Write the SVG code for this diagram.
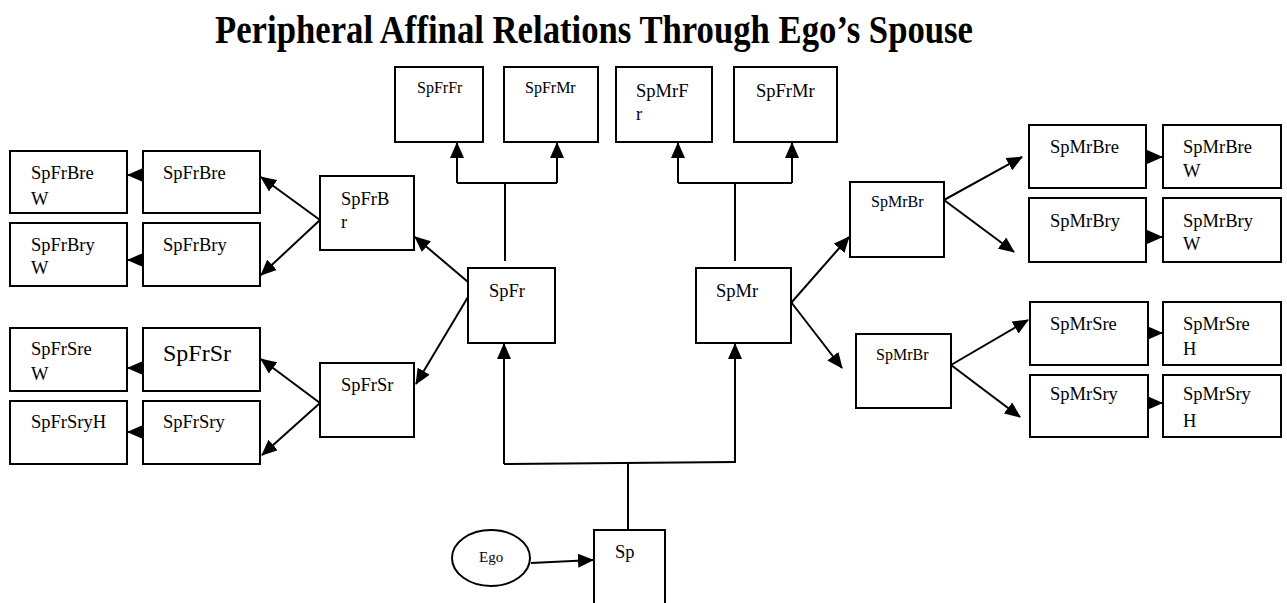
<svg xmlns="http://www.w3.org/2000/svg" width="1287" height="603" viewBox="0 0 1287 603">
<style>
rect,ellipse{fill:#fff;stroke:#000;stroke-width:2}
text{font-family:"Liberation Serif","Times New Roman",serif;font-size:18.5px;fill:#000}
.s{font-size:16px}
.b{font-size:24px}
.e{font-size:15px}
.title{font-size:40px;font-weight:bold}
#connectors line,#connectors path{stroke:#000;stroke-width:2;fill:none}
.a{marker-end:url(#ah)}
</style>
<defs>
<marker id="ah" markerWidth="16" markerHeight="14" refX="15" refY="7" orient="auto" markerUnits="userSpaceOnUse"><path d="M0,0 L16,7 L0,14 z" fill="#000"/></marker>
</defs>
<rect x="0" y="0" width="1287" height="603" style="fill:#fff;stroke:none"/>
<text class="title" x="215" y="43" textLength="758" lengthAdjust="spacingAndGlyphs">Peripheral Affinal Relations Through Ego’s Spouse</text>

<g id="connectors">
<line x1="457" y1="183" x2="557" y2="183"/>
<line class="a" x1="457" y1="183" x2="457" y2="143"/>
<line class="a" x1="557" y1="183" x2="557" y2="143"/>
<line x1="505" y1="183" x2="505" y2="261"/>
<line x1="678" y1="183" x2="792" y2="183"/>
<line class="a" x1="678" y1="183" x2="678" y2="143"/>
<line class="a" x1="792" y1="183" x2="792" y2="143"/>
<line x1="735" y1="183" x2="735" y2="261"/>
<line x1="504" y1="464" x2="736" y2="462"/>
<line class="a" x1="504" y1="464" x2="504" y2="344"/>
<line class="a" x1="735" y1="462" x2="735" y2="344"/>
<line x1="628" y1="463" x2="628" y2="530"/>
<line class="a" x1="531" y1="563" x2="593" y2="560"/>
<line class="a" x1="468" y1="282" x2="415" y2="237"/>
<line class="a" x1="468" y1="297" x2="416" y2="384"/>
<line class="a" x1="320" y1="220" x2="261" y2="177"/>
<line class="a" x1="320" y1="220" x2="261" y2="275"/>
<line class="a" x1="320" y1="403" x2="261" y2="359"/>
<line class="a" x1="320" y1="403" x2="262" y2="455"/>
<line class="a" x1="143" y1="175" x2="128" y2="175"/>
<line class="a" x1="143" y1="260" x2="128" y2="260"/>
<line class="a" x1="143" y1="368" x2="128" y2="368"/>
<line class="a" x1="143" y1="432" x2="128" y2="432"/>
<line class="a" x1="791" y1="303" x2="849" y2="237"/>
<line class="a" x1="791" y1="302" x2="842" y2="368"/>
<line class="a" x1="944" y1="200" x2="1022" y2="157"/>
<line class="a" x1="944" y1="200" x2="1014" y2="252"/>
<line class="a" x1="951" y1="365" x2="1028" y2="320"/>
<line class="a" x1="951" y1="365" x2="1020" y2="417"/>
<line class="a" x1="1146" y1="157" x2="1162" y2="157"/>
<line class="a" x1="1146" y1="237" x2="1162" y2="237"/>
<line class="a" x1="1148" y1="333" x2="1162" y2="333"/>
<line class="a" x1="1148" y1="403" x2="1162" y2="403"/>
</g>

<g id="SpFrBreW"><rect x="10" y="151" width="117" height="62"/><text x="31" y="179">SpFrBre</text><text x="31" y="205">W</text></g>
<g id="SpFrBre"><rect x="143" y="151" width="117" height="62"/><text x="163" y="179">SpFrBre</text></g>
<g id="SpFrBryW"><rect x="10" y="223" width="117" height="63"/><text x="31" y="251">SpFrBry</text><text x="31" y="274">W</text></g>
<g id="SpFrBry"><rect x="143" y="223" width="117" height="63"/><text x="163" y="251">SpFrBry</text></g>
<g id="SpFrBr"><rect x="320" y="176" width="94" height="74"/><text x="341" y="205">SpFrB</text><text x="341" y="228">r</text></g>
<g id="SpFrSreW"><rect x="10" y="328" width="117" height="63"/><text x="31" y="355">SpFrSre</text><text x="31" y="380">W</text></g>
<g id="SpFrSr-big"><rect x="143" y="328" width="117" height="63"/><text class="b" x="163" y="361">SpFrSr</text></g>
<g id="SpFrSryH"><rect x="10" y="401" width="117" height="63"/><text x="31" y="428">SpFrSryH</text></g>
<g id="SpFrSry"><rect x="143" y="401" width="117" height="63"/><text x="163" y="428">SpFrSry</text></g>
<g id="SpFrSr"><rect x="320" y="363" width="94" height="74"/><text x="341" y="391">SpFrSr</text></g>
<g id="SpFrFr"><rect x="395" y="67" width="88" height="75"/><text class="s" x="417" y="93">SpFrFr</text></g>
<g id="SpFrMr"><rect x="504" y="67" width="94" height="75"/><text class="s" x="525" y="93">SpFrMr</text></g>
<g id="SpMrFr"><rect x="616" y="67" width="96" height="75"/><text x="636" y="97">SpMrF</text><text x="636" y="120">r</text></g>
<g id="SpFrMr2"><rect x="734" y="67" width="103" height="75"/><text x="756" y="97">SpFrMr</text></g>
<g id="SpFr"><rect x="468" y="268" width="87" height="75"/><text x="489" y="297">SpFr</text></g>
<g id="SpMr"><rect x="696" y="268" width="95" height="75"/><text x="716" y="297">SpMr</text></g>
<g id="Sp"><rect x="594" y="530" width="71" height="85"/><text x="615" y="558">Sp</text></g>
<g id="Ego"><ellipse cx="491" cy="558" rx="39" ry="28"/><text class="e" x="479" y="562">Ego</text></g>
<g id="SpMrBr1"><rect x="850" y="182" width="94" height="75"/><text class="s" x="871" y="207">SpMrBr</text></g>
<g id="SpMrBr2"><rect x="856" y="334" width="95" height="74"/><text class="s" x="876" y="360">SpMrBr</text></g>
<g id="SpMrBre"><rect x="1029" y="125" width="117" height="63"/><text x="1050" y="153">SpMrBre</text></g>
<g id="SpMrBreW"><rect x="1163" y="125" width="118" height="63"/><text x="1183" y="153">SpMrBre</text><text x="1183" y="177">W</text></g>
<g id="SpMrBry"><rect x="1029" y="198" width="117" height="64"/><text x="1050" y="227">SpMrBry</text></g>
<g id="SpMrBryW"><rect x="1163" y="198" width="118" height="64"/><text x="1183" y="227">SpMrBry</text><text x="1183" y="250">W</text></g>
<g id="SpMrSre"><rect x="1030" y="302" width="118" height="63"/><text x="1050" y="330">SpMrSre</text></g>
<g id="SpMrSreH"><rect x="1163" y="302" width="118" height="63"/><text x="1183" y="330">SpMrSre</text><text x="1183" y="355">H</text></g>
<g id="SpMrSry"><rect x="1030" y="375" width="118" height="62"/><text x="1050" y="400">SpMrSry</text></g>
<g id="SpMrSryH"><rect x="1163" y="375" width="118" height="62"/><text x="1183" y="400">SpMrSry</text><text x="1183" y="427">H</text></g>
</svg>
